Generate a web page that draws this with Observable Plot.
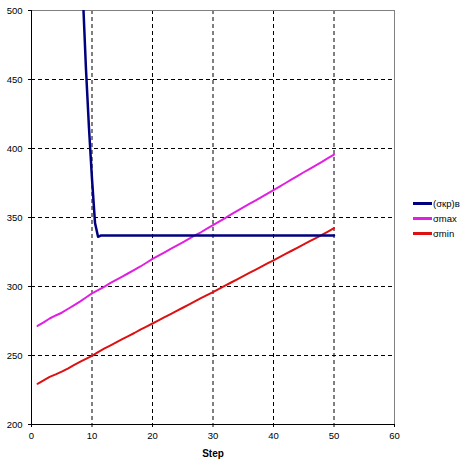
<!DOCTYPE html>
<html>
<head>
<meta charset="utf-8">
<script src="https://cdn.jsdelivr.net/npm/d3@7"></script>
<script src="https://cdn.jsdelivr.net/npm/@observablehq/plot@0.6"></script>
<style>
  body { margin: 0; background: #fff; }
  #wrap { position: relative; width: 465px; height: 466px; font-family: "Liberation Sans", Arial, sans-serif; }
  #legend { position: absolute; left: 413px; top: 196px; font-size: 9.5px; color: #000; }
  #legend .item { display: flex; align-items: center; height: 15px; }
  #legend .sw { width: 19px; height: 2.5px; margin-right: 1px; }
</style>
</head>
<body>
<div id="wrap"><div id="legend"></div></div>
<script>
const seriesNames = ["(σкр)в", "σmax", "σmin"];
const seriesColors = ["#000080", "#e020e0", "#dd1111"];

const kpSteps = [8, 8.5, 9, 9.5, 10, 10.5, 11, 11.5, 12, 13, 14, 15, 16, 17, 18, 19, 20, 21, 22, 23, 24, 25, 26, 27, 28, 29, 30, 31, 32, 33, 34, 35, 36, 37, 38, 39, 40, 41, 42, 43, 44, 45, 46, 47, 48, 49, 50];
const kpValues = [560, 510, 458, 415, 378, 346, 336, 337, 337, 337, 337, 337, 337, 337, 337, 337, 337, 337, 337, 337, 337, 337, 337, 337, 337, 337, 337, 337, 337, 337, 337, 337, 337, 337, 337, 337, 337, 337, 337, 337, 337, 337, 337, 337, 337, 337, 337];

const steps = [1,2,3,4,5,6,7,8,9,10,11,12,13,14,15,16,17,18,19,20,21,22,23,24,25,26,27,28,29,30,31,32,33,34,35,36,37,38,39,40,41,42,43,44,45,46,47,48,49,50];
const maxValues = [271.4, 274, 276.8, 279, 281, 283.7, 286.3, 289, 292, 295, 297.3, 299.8, 302.4, 304.8, 307.2, 309.6, 312, 314.5, 317.2, 320, 322.4, 324.8, 327.2, 329.6, 332, 334.5, 337, 339.3, 342, 344.5, 347, 349.6, 352.2, 354.8, 357.3, 359.8, 362.3, 364.8, 367.3, 369.8, 372.4, 375, 377.6, 380.2, 382.8, 385.3, 387.8, 390.3, 393, 395.5];
const minValues = [229.5, 232, 234.5, 236.3, 238.3, 240.5, 243, 245.3, 247.5, 249.8, 252.5, 255, 257.2, 259.5, 261.8, 264, 266.3, 268.8, 271, 273.2, 275.4, 277.8, 280, 282.3, 284.6, 286.9, 289.2, 291.5, 293.8, 296, 298.3, 300.6, 302.9, 305.2, 307.5, 309.8, 312.1, 314.4, 316.7, 319, 321.3, 323.6, 325.9, 328.2, 330.5, 332.8, 335.1, 337.4, 339.8, 342.3];

const xTicks = [0, 10, 20, 30, 40, 50, 60];
const yTicks = [200, 250, 300, 350, 400, 450, 500];
const xGrid = [10, 20, 30, 40, 50];
const yGrid = [250, 300, 350, 400, 450];

const kpData = kpSteps.map((s, i) => ({step: s, value: kpValues[i]}));
const maxData = steps.map((s, i) => ({step: s, value: maxValues[i]}));
const minData = steps.map((s, i) => ({step: s, value: minValues[i]}));

const chart = Plot.plot({
  width: 465,
  height: 466,
  marginLeft: 31,
  marginRight: 71,
  marginTop: 10,
  marginBottom: 42,
  style: {fontFamily: "Liberation Sans, Arial, sans-serif", fontSize: "9.5px", background: "#fff", color: "#000"},
  x: {domain: [0, 60]},
  y: {domain: [200, 500]},
  marks: [
    Plot.ruleX(xGrid, {stroke: "#000", strokeWidth: 1, strokeDasharray: "4,3"}),
    Plot.ruleY(yGrid, {stroke: "#000", strokeWidth: 1, strokeDasharray: "4,3"}),
    Plot.ruleX([60], {stroke: "#808080", strokeWidth: 1}),
    Plot.ruleY([500], {stroke: "#808080", strokeWidth: 1}),
    Plot.line(minData, {x: "step", y: "value", stroke: seriesColors[2], strokeWidth: 2}),
    Plot.line(maxData, {x: "step", y: "value", stroke: seriesColors[1], strokeWidth: 2}),
    Plot.line(kpData, {x: "step", y: "value", stroke: seriesColors[0], strokeWidth: 2.5, clip: true}),
    Plot.ruleX([0], {stroke: "#000", strokeWidth: 1}),
    Plot.ruleY([200], {stroke: "#000", strokeWidth: 1}),
    Plot.axisX({ticks: xTicks, tickSize: 3, tickPadding: 5, label: null, tickFormat: d => String(d)}),
    Plot.axisY({ticks: yTicks, tickSize: 3, tickPadding: 6, label: null, tickFormat: d => String(d)}),
    Plot.text(["Step"], {frameAnchor: "bottom", dy: 32, fontWeight: "bold", fontSize: 10})
  ]
});
document.getElementById("wrap").prepend(chart);

const legend = document.getElementById("legend");
seriesNames.forEach((name, i) => {
  const item = document.createElement("div");
  item.className = "item";
  const sw = document.createElement("div");
  sw.className = "sw";
  sw.style.background = seriesColors[i];
  const t = document.createElement("span");
  t.textContent = name;
  item.appendChild(sw);
  item.appendChild(t);
  legend.appendChild(item);
});
</script>
</body>
</html>
